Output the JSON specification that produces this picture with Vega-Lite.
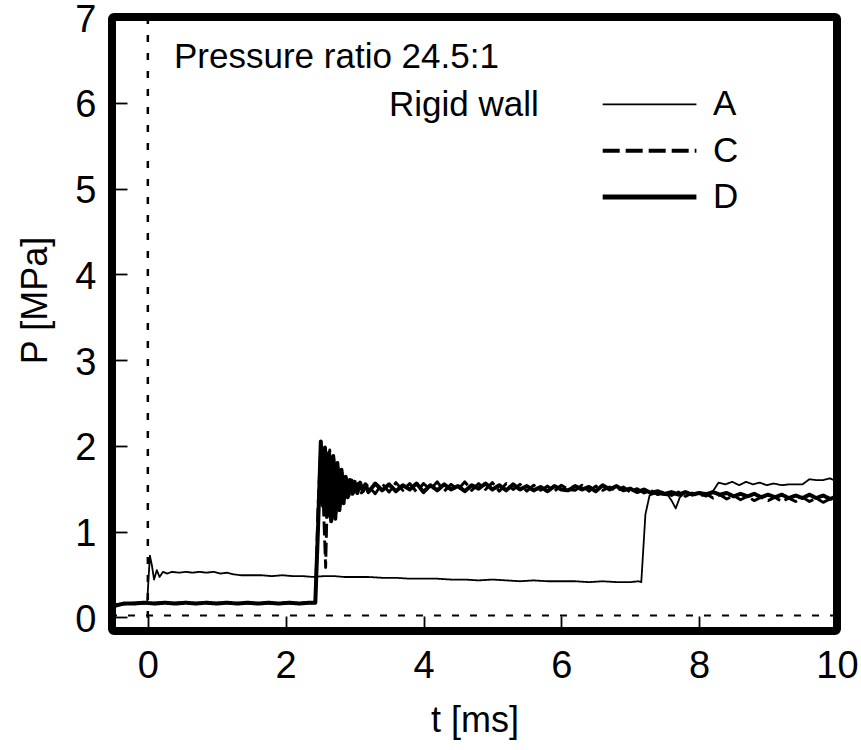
{
  "$schema": "https://vega.github.io/schema/vega-lite/v6.json",
  "width": 725,
  "height": 614,
  "autosize": {"type": "none"},
  "padding": {"left": 112, "top": 17, "right": 24, "bottom": 119},
  "background": "white",
  "config": {
    "view": {"stroke": "black", "strokeWidth": 8, "cornerRadius": 2},
    "axis": {
      "labelFont": "Liberation Sans", "titleFont": "Liberation Sans", "titleFontWeight": "normal",
      "labelColor": "black", "titleColor": "black", "tickColor": "black",
      "domain": false, "grid": false, "tickSize": -15, "tickWidth": 1.8,
      "labelFontSize": 38, "titleFontSize": 36, "format": "d", "zindex": 1, "labelFlush": false
    }
  },
  "datasets": {
    "traces": [
      {"series":"A","t":-0.52,"P":0.14},{"series":"A","t":-0.3,"P":0.16},{"series":"A","t":-0.01,"P":0.16},{"series":"A","t":0.01,"P":0.45},{"series":"A","t":0.03,"P":0.72},{"series":"A","t":0.06,"P":0.6},{"series":"A","t":0.09,"P":0.44},{"series":"A","t":0.13,"P":0.55},{"series":"A","t":0.17,"P":0.47},{"series":"A","t":0.22,"P":0.53},{"series":"A","t":0.28,"P":0.51},{"series":"A","t":0.35,"P":0.53},{"series":"A","t":0.45,"P":0.52},{"series":"A","t":0.55,"P":0.53},{"series":"A","t":0.65,"P":0.52},{"series":"A","t":0.75,"P":0.53},{"series":"A","t":0.85,"P":0.52},{"series":"A","t":0.95,"P":0.53},{"series":"A","t":1.05,"P":0.51},{"series":"A","t":1.15,"P":0.52},{"series":"A","t":1.25,"P":0.5},{"series":"A","t":1.35,"P":0.49},{"series":"A","t":1.5,"P":0.49},{"series":"A","t":1.65,"P":0.49},{"series":"A","t":1.8,"P":0.48},{"series":"A","t":1.95,"P":0.49},{"series":"A","t":2.1,"P":0.48},{"series":"A","t":2.25,"P":0.48},{"series":"A","t":2.4,"P":0.47},{"series":"A","t":2.55,"P":0.48},{"series":"A","t":2.7,"P":0.48},{"series":"A","t":2.85,"P":0.47},{"series":"A","t":3.0,"P":0.47},{"series":"A","t":3.2,"P":0.47},{"series":"A","t":3.4,"P":0.46},{"series":"A","t":3.6,"P":0.46},{"series":"A","t":3.8,"P":0.45},{"series":"A","t":4.0,"P":0.45},{"series":"A","t":4.2,"P":0.45},{"series":"A","t":4.4,"P":0.44},{"series":"A","t":4.6,"P":0.44},{"series":"A","t":4.8,"P":0.43},{"series":"A","t":5.0,"P":0.44},{"series":"A","t":5.2,"P":0.43},{"series":"A","t":5.4,"P":0.42},{"series":"A","t":5.6,"P":0.43},{"series":"A","t":5.8,"P":0.42},{"series":"A","t":6.0,"P":0.42},{"series":"A","t":6.2,"P":0.42},{"series":"A","t":6.4,"P":0.41},{"series":"A","t":6.6,"P":0.42},{"series":"A","t":6.8,"P":0.41},{"series":"A","t":7.0,"P":0.41},{"series":"A","t":7.12,"P":0.42},{"series":"A","t":7.16,"P":0.41},{"series":"A","t":7.22,"P":1.2},{"series":"A","t":7.28,"P":1.42},{"series":"A","t":7.35,"P":1.44},{"series":"A","t":7.45,"P":1.43},{"series":"A","t":7.55,"P":1.42},{"series":"A","t":7.6,"P":1.36},{"series":"A","t":7.66,"P":1.27},{"series":"A","t":7.72,"P":1.4},{"series":"A","t":7.8,"P":1.45},{"series":"A","t":7.9,"P":1.44},{"series":"A","t":8.0,"P":1.46},{"series":"A","t":8.1,"P":1.45},{"series":"A","t":8.2,"P":1.47},{"series":"A","t":8.28,"P":1.57},{"series":"A","t":8.38,"P":1.55},{"series":"A","t":8.48,"P":1.58},{"series":"A","t":8.58,"P":1.54},{"series":"A","t":8.68,"P":1.58},{"series":"A","t":8.78,"P":1.55},{"series":"A","t":8.88,"P":1.57},{"series":"A","t":8.98,"P":1.54},{"series":"A","t":9.08,"P":1.56},{"series":"A","t":9.2,"P":1.54},{"series":"A","t":9.3,"P":1.55},{"series":"A","t":9.4,"P":1.55},{"series":"A","t":9.5,"P":1.55},{"series":"A","t":9.6,"P":1.61},{"series":"A","t":9.7,"P":1.6},{"series":"A","t":9.8,"P":1.6},{"series":"A","t":9.9,"P":1.62},{"series":"A","t":10.0,"P":1.58},

      {"series":"C","t":-0.52,"P":0.13},{"series":"C","t":-0.45,"P":0.15},{"series":"C","t":-0.3,"P":0.16},{"series":"C","t":-0.1,"P":0.17},{"series":"C","t":0.05,"P":0.16},{"series":"C","t":0.2,"P":0.17},{"series":"C","t":0.35,"P":0.16},{"series":"C","t":0.5,"P":0.17},{"series":"C","t":0.65,"P":0.16},{"series":"C","t":0.8,"P":0.17},{"series":"C","t":0.95,"P":0.16},{"series":"C","t":1.1,"P":0.17},{"series":"C","t":1.25,"P":0.16},{"series":"C","t":1.4,"P":0.17},{"series":"C","t":1.55,"P":0.16},{"series":"C","t":1.7,"P":0.17},{"series":"C","t":1.85,"P":0.16},{"series":"C","t":2.0,"P":0.17},{"series":"C","t":2.15,"P":0.16},{"series":"C","t":2.3,"P":0.17},{"series":"C","t":2.43,"P":0.17},{"series":"C","t":2.47,"P":1.3},{"series":"C","t":2.51,"P":2.0},{"series":"C","t":2.55,"P":1.25},{"series":"C","t":2.58,"P":0.58},{"series":"C","t":2.61,"P":1.6},{"series":"C","t":2.64,"P":1.95},{"series":"C","t":2.67,"P":1.3},{"series":"C","t":2.7,"P":1.85},{"series":"C","t":2.73,"P":1.2},{"series":"C","t":2.76,"P":1.75},{"series":"C","t":2.79,"P":1.3},{"series":"C","t":2.82,"P":1.68},{"series":"C","t":2.85,"P":1.38},{"series":"C","t":2.88,"P":1.62},{"series":"C","t":2.92,"P":1.42},{"series":"C","t":2.96,"P":1.6},{"series":"C","t":3.0,"P":1.46},{"series":"C","t":3.05,"P":1.56},{"series":"C","t":3.1,"P":1.45},{"series":"C","t":3.15,"P":1.55},
      {"series":"C","t":3.2,"P":1.53},{"series":"C","t":3.3,"P":1.44},{"series":"C","t":3.4,"P":1.56},{"series":"C","t":3.5,"P":1.46},{"series":"C","t":3.6,"P":1.57},{"series":"C","t":3.7,"P":1.48},{"series":"C","t":3.8,"P":1.56},{"series":"C","t":3.9,"P":1.46},{"series":"C","t":4.0,"P":1.56},{"series":"C","t":4.1,"P":1.49},{"series":"C","t":4.2,"P":1.58},{"series":"C","t":4.3,"P":1.47},{"series":"C","t":4.4,"P":1.55},{"series":"C","t":4.5,"P":1.49},{"series":"C","t":4.6,"P":1.58},{"series":"C","t":4.7,"P":1.48},{"series":"C","t":4.8,"P":1.56},{"series":"C","t":4.9,"P":1.49},{"series":"C","t":5.0,"P":1.57},{"series":"C","t":5.1,"P":1.47},{"series":"C","t":5.2,"P":1.56},{"series":"C","t":5.3,"P":1.49},{"series":"C","t":5.4,"P":1.55},{"series":"C","t":5.5,"P":1.47},{"series":"C","t":5.6,"P":1.54},{"series":"C","t":5.7,"P":1.48},{"series":"C","t":5.8,"P":1.53},{"series":"C","t":5.9,"P":1.47},{"series":"C","t":6.0,"P":1.54},{"series":"C","t":6.1,"P":1.49},{"series":"C","t":6.2,"P":1.48},{"series":"C","t":6.3,"P":1.54},{"series":"C","t":6.4,"P":1.47},{"series":"C","t":6.5,"P":1.53},{"series":"C","t":6.6,"P":1.48},{"series":"C","t":6.7,"P":1.52},{"series":"C","t":6.8,"P":1.47},{"series":"C","t":6.9,"P":1.52},{"series":"C","t":7.0,"P":1.46},{"series":"C","t":7.1,"P":1.5},{"series":"C","t":7.2,"P":1.45},{"series":"C","t":7.3,"P":1.48},{"series":"C","t":7.4,"P":1.43},{"series":"C","t":7.5,"P":1.47},{"series":"C","t":7.6,"P":1.42},{"series":"C","t":7.7,"P":1.46},{"series":"C","t":7.8,"P":1.41},{"series":"C","t":7.9,"P":1.45},{"series":"C","t":8.0,"P":1.41},{"series":"C","t":8.1,"P":1.44},{"series":"C","t":8.2,"P":1.39},{"series":"C","t":8.3,"P":1.43},{"series":"C","t":8.4,"P":1.38},{"series":"C","t":8.5,"P":1.42},{"series":"C","t":8.6,"P":1.37},{"series":"C","t":8.7,"P":1.41},{"series":"C","t":8.8,"P":1.36},{"series":"C","t":8.9,"P":1.4},{"series":"C","t":9.0,"P":1.36},{"series":"C","t":9.1,"P":1.4},{"series":"C","t":9.2,"P":1.35},{"series":"C","t":9.3,"P":1.39},{"series":"C","t":9.4,"P":1.35},{"series":"C","t":9.5,"P":1.4},{"series":"C","t":9.6,"P":1.35},{"series":"C","t":9.7,"P":1.39},{"series":"C","t":9.8,"P":1.34},{"series":"C","t":9.9,"P":1.38},{"series":"C","t":10.0,"P":1.36},

      {"series":"D","t":-0.52,"P":0.12},{"series":"D","t":-0.45,"P":0.14},{"series":"D","t":-0.35,"P":0.16},{"series":"D","t":-0.2,"P":0.16},{"series":"D","t":-0.05,"P":0.17},{"series":"D","t":0.1,"P":0.16},{"series":"D","t":0.25,"P":0.17},{"series":"D","t":0.4,"P":0.16},{"series":"D","t":0.55,"P":0.17},{"series":"D","t":0.7,"P":0.16},{"series":"D","t":0.85,"P":0.17},{"series":"D","t":1.0,"P":0.16},{"series":"D","t":1.15,"P":0.17},{"series":"D","t":1.3,"P":0.16},{"series":"D","t":1.45,"P":0.17},{"series":"D","t":1.6,"P":0.16},{"series":"D","t":1.75,"P":0.17},{"series":"D","t":1.9,"P":0.16},{"series":"D","t":2.05,"P":0.17},{"series":"D","t":2.2,"P":0.16},{"series":"D","t":2.35,"P":0.17},{"series":"D","t":2.43,"P":0.17},{"series":"D","t":2.47,"P":1.05},{"series":"D","t":2.51,"P":2.05},{"series":"D","t":2.54,"P":1.3},{"series":"D","t":2.57,"P":1.98},{"series":"D","t":2.6,"P":1.18},{"series":"D","t":2.63,"P":1.92},{"series":"D","t":2.66,"P":1.12},{"series":"D","t":2.69,"P":1.88},{"series":"D","t":2.72,"P":1.15},{"series":"D","t":2.75,"P":1.8},{"series":"D","t":2.78,"P":1.25},{"series":"D","t":2.81,"P":1.72},{"series":"D","t":2.84,"P":1.33},{"series":"D","t":2.87,"P":1.64},{"series":"D","t":2.9,"P":1.4},{"series":"D","t":2.93,"P":1.6},{"series":"D","t":2.97,"P":1.44},{"series":"D","t":3.0,"P":1.58},{"series":"D","t":3.04,"P":1.45},{"series":"D","t":3.08,"P":1.57},{"series":"D","t":3.12,"P":1.47},{"series":"D","t":3.16,"P":1.55},
      {"series":"D","t":3.2,"P":1.46},{"series":"D","t":3.3,"P":1.56},{"series":"D","t":3.4,"P":1.48},{"series":"D","t":3.5,"P":1.55},{"series":"D","t":3.6,"P":1.47},{"series":"D","t":3.7,"P":1.54},{"series":"D","t":3.8,"P":1.49},{"series":"D","t":3.9,"P":1.56},{"series":"D","t":4.0,"P":1.46},{"series":"D","t":4.1,"P":1.54},{"series":"D","t":4.2,"P":1.48},{"series":"D","t":4.3,"P":1.55},{"series":"D","t":4.4,"P":1.49},{"series":"D","t":4.5,"P":1.53},{"series":"D","t":4.6,"P":1.47},{"series":"D","t":4.7,"P":1.54},{"series":"D","t":4.8,"P":1.5},{"series":"D","t":4.9,"P":1.56},{"series":"D","t":5.0,"P":1.49},{"series":"D","t":5.1,"P":1.54},{"series":"D","t":5.2,"P":1.48},{"series":"D","t":5.3,"P":1.55},{"series":"D","t":5.4,"P":1.49},{"series":"D","t":5.5,"P":1.53},{"series":"D","t":5.6,"P":1.48},{"series":"D","t":5.7,"P":1.52},{"series":"D","t":5.8,"P":1.47},{"series":"D","t":5.9,"P":1.53},{"series":"D","t":6.0,"P":1.49},{"series":"D","t":6.1,"P":1.48},{"series":"D","t":6.2,"P":1.53},{"series":"D","t":6.3,"P":1.49},{"series":"D","t":6.4,"P":1.52},{"series":"D","t":6.5,"P":1.47},{"series":"D","t":6.6,"P":1.54},{"series":"D","t":6.7,"P":1.49},{"series":"D","t":6.8,"P":1.53},{"series":"D","t":6.9,"P":1.48},{"series":"D","t":7.0,"P":1.5},{"series":"D","t":7.1,"P":1.46},{"series":"D","t":7.2,"P":1.49},{"series":"D","t":7.3,"P":1.45},{"series":"D","t":7.4,"P":1.47},{"series":"D","t":7.5,"P":1.44},{"series":"D","t":7.6,"P":1.46},{"series":"D","t":7.7,"P":1.43},{"series":"D","t":7.8,"P":1.46},{"series":"D","t":7.9,"P":1.43},{"series":"D","t":8.0,"P":1.45},{"series":"D","t":8.1,"P":1.42},{"series":"D","t":8.2,"P":1.46},{"series":"D","t":8.3,"P":1.43},{"series":"D","t":8.4,"P":1.45},{"series":"D","t":8.5,"P":1.41},{"series":"D","t":8.6,"P":1.44},{"series":"D","t":8.7,"P":1.41},{"series":"D","t":8.8,"P":1.44},{"series":"D","t":8.9,"P":1.4},{"series":"D","t":9.0,"P":1.43},{"series":"D","t":9.1,"P":1.4},{"series":"D","t":9.2,"P":1.43},{"series":"D","t":9.3,"P":1.39},{"series":"D","t":9.4,"P":1.42},{"series":"D","t":9.5,"P":1.39},{"series":"D","t":9.6,"P":1.43},{"series":"D","t":9.7,"P":1.39},{"series":"D","t":9.8,"P":1.42},{"series":"D","t":9.9,"P":1.38},{"series":"D","t":10.0,"P":1.41}
    ],
    "one": [{}]
  },
  "layer": [
    {
      "data": {"name": "one"},
      "mark": {"type": "rule", "color": "black", "strokeWidth": 2.5, "strokeDash": [7, 11]},
      "encoding": {"x": {"datum": 0, "type": "quantitative"}}
    },
    {
      "data": {"name": "one"},
      "mark": {"type": "rule", "color": "black", "strokeWidth": 2, "strokeDash": [7, 11]},
      "encoding": {"y": {"datum": 0.02, "type": "quantitative"}}
    },
    {
      "data": {"name": "traces"},
      "mark": {"type": "line", "color": "black", "strokeJoin": "round", "clip": true},
      "encoding": {
        "x": {
          "field": "t", "type": "quantitative",
          "scale": {"domain": [-0.52, 10], "nice": false, "zero": false},
          "axis": {"values": [0, 2, 4, 6, 8, 10], "title": "t [ms]", "labelPadding": 31, "titlePadding": 18}
        },
        "y": {
          "field": "P", "type": "quantitative",
          "scale": {"domain": [-0.16, 7], "nice": false, "zero": false},
          "axis": {"values": [0, 1, 2, 3, 4, 5, 6, 7], "title": "P [MPa]", "labelPadding": 31, "labelOffset": 3, "titlePadding": 20, "titleY": 283}
        },
        "detail": {"field": "series", "type": "nominal"},
        "strokeDash": {"field": "series", "type": "nominal", "scale": {"domain": ["A", "C", "D"], "range": [[1, 0], [14, 5], [1, 0]]}, "legend": null},
        "strokeWidth": {"field": "series", "type": "ordinal", "scale": {"domain": ["A", "C", "D"], "range": [1.8, 4, 5]}, "legend": null}
      }
    },
    {
      "data": {"name": "one"},
      "mark": {"type": "rule", "color": "black", "strokeWidth": 1.8},
      "encoding": {"x": {"datum": 6.6, "type": "quantitative"}, "x2": {"datum": 7.96}, "y": {"datum": 5.98, "type": "quantitative"}}
    },
    {
      "data": {"name": "one"},
      "mark": {"type": "rule", "color": "black", "strokeWidth": 4, "strokeDash": [17, 6]},
      "encoding": {"x": {"datum": 6.6, "type": "quantitative"}, "x2": {"datum": 7.96}, "y": {"datum": 5.44, "type": "quantitative"}}
    },
    {
      "data": {"name": "one"},
      "mark": {"type": "rule", "color": "black", "strokeWidth": 5},
      "encoding": {"x": {"datum": 6.6, "type": "quantitative"}, "x2": {"datum": 7.96}, "y": {"datum": 4.9, "type": "quantitative"}}
    },
    {
      "data": {"name": "one"},
      "mark": {"type": "text", "font": "Liberation Sans", "fontSize": 35, "align": "left", "baseline": "middle", "color": "black"},
      "encoding": {"x": {"datum": 8.2, "type": "quantitative"}, "y": {"datum": 5.98, "type": "quantitative"}, "text": {"value": "A"}}
    },
    {
      "data": {"name": "one"},
      "mark": {"type": "text", "font": "Liberation Sans", "fontSize": 35, "align": "left", "baseline": "middle", "color": "black"},
      "encoding": {"x": {"datum": 8.2, "type": "quantitative"}, "y": {"datum": 5.44, "type": "quantitative"}, "text": {"value": "C"}}
    },
    {
      "data": {"name": "one"},
      "mark": {"type": "text", "font": "Liberation Sans", "fontSize": 35, "align": "left", "baseline": "middle", "color": "black"},
      "encoding": {"x": {"datum": 8.2, "type": "quantitative"}, "y": {"datum": 4.9, "type": "quantitative"}, "text": {"value": "D"}}
    },
    {
      "data": {"name": "one"},
      "mark": {"type": "text", "font": "Liberation Sans", "fontSize": 35, "align": "left", "baseline": "middle", "color": "black"},
      "encoding": {"x": {"datum": 0.38, "type": "quantitative"}, "y": {"datum": 6.53, "type": "quantitative"}, "text": {"value": "Pressure ratio 24.5:1"}}
    },
    {
      "data": {"name": "one"},
      "mark": {"type": "text", "font": "Liberation Sans", "fontSize": 35, "align": "left", "baseline": "middle", "color": "black"},
      "encoding": {"x": {"datum": 3.5, "type": "quantitative"}, "y": {"datum": 5.97, "type": "quantitative"}, "text": {"value": "Rigid wall"}}
    }
  ]
}
